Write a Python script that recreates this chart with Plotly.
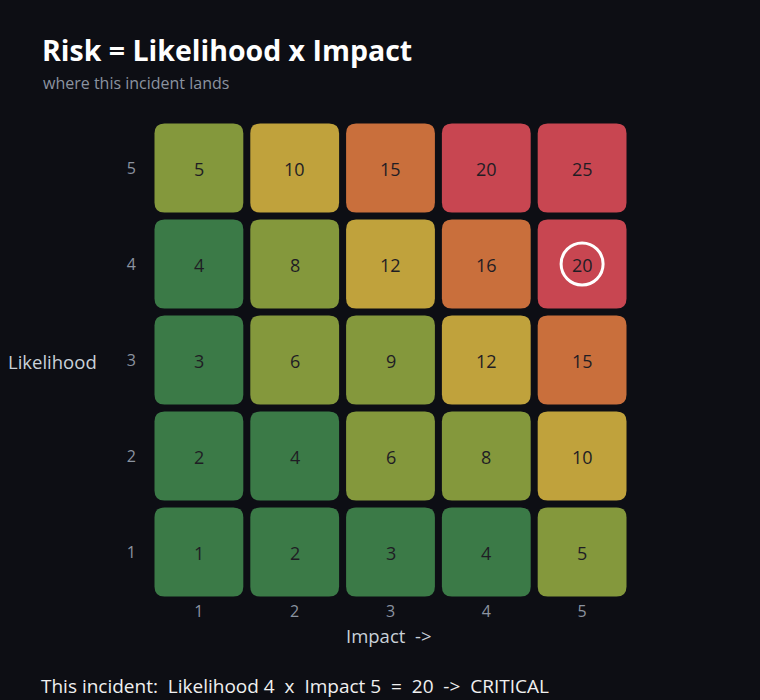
import plotly.graph_objects as go

impact = [1, 2, 3, 4, 5]
likelihood = [1, 2, 3, 4, 5]
tick_labels = ["1", "2", "3", "4", "5"]
# score thresholds -> colour bins
bin_max = [4, 9, 12, 16, 25]
bin_colors = ["#3b7a47", "#84983c", "#c0a23c", "#c96f3c", "#c84651"]
incident_likelihood = 4
incident_impact = 5
incident_level = "CRITICAL"

BG = "#0d0e14"
FONT = "Open Sans, Noto Sans, sans-serif"


def color_for(score):
    for m, c in zip(bin_max, bin_colors):
        if score <= m:
            return c
    return bin_colors[-1]


def rounded_rect(x0, y0, x1, y1, rx, ry):
    return (
        f"M {x0+rx},{y0} L {x1-rx},{y0} Q {x1},{y0} {x1},{y0+ry} "
        f"L {x1},{y1-ry} Q {x1},{y1} {x1-rx},{y1} "
        f"L {x0+rx},{y1} Q {x0},{y1} {x0},{y1-ry} "
        f"L {x0},{y0+ry} Q {x0},{y0} {x0+rx},{y0} Z"
    )


fig = go.Figure()
shapes = []
annotations = []
half = 89 / 96 / 2
r = 10 / 96
for L in likelihood:
    for I in impact:
        s = L * I
        shapes.append(dict(
            type="path", xref="x", yref="y",
            path=rounded_rect(I - half, L - half, I + half, L + half, r, r),
            fillcolor=color_for(s), line=dict(width=0), layer="below",
        ))
        annotations.append(dict(
            x=I, y=L, xref="x", yref="y", text=str(s), showarrow=False,
            xanchor="center", yanchor="middle", yshift=-1,
            font=dict(family=FONT, size=18, color="#1f1d24"),
        ))

fig.add_trace(go.Scatter(
    x=[incident_impact], y=[incident_likelihood], mode="markers",
    marker=dict(symbol="circle-open", size=42, color="white", line=dict(width=3, color="white")),
    hoverinfo="skip", showlegend=False,
))

PW = 480
annotations += [
    dict(text="<b>Risk = Likelihood x Impact</b>", xref="paper", yref="paper",
         x=(-150.5 + 39) / PW, y=1 + (120 - 50) / PW,
         xanchor="left", yanchor="middle", showarrow=False,
         font=dict(size=28.5, color="#ffffff", family=FONT)),
    dict(text="where this incident lands", xref="paper", yref="paper",
         x=(-150.5 + 40) / PW, y=1 + (120 - 83) / PW,
         xanchor="left", yanchor="middle", showarrow=False,
         font=dict(size=16, color="#8b93a0", family=FONT)),
    dict(text="Likelihood", xref="paper", yref="paper",
         x=(-150.5 + 5) / PW, y=0.5 + (360 - 361) / PW,
         xanchor="left", yanchor="middle", showarrow=False,
         font=dict(size=18.5, color="#c9d1d9", family=FONT)),
    dict(text="Impact  ->", xref="paper", yref="paper",
         x=0.5 + (389 - 390.5) / PW, y=-(635 - 600) / PW,
         xanchor="center", yanchor="middle", showarrow=False,
         font=dict(size=18.5, color="#c9d1d9", family=FONT)),
    dict(text=(f"This incident:  Likelihood {incident_likelihood}  x  Impact {incident_impact}  =  "
               f"{incident_likelihood * incident_impact}  ->  {incident_level}"),
         xref="paper", yref="paper",
         x=(-150.5 + 38) / PW, y=-(686 - 600) / PW,
         xanchor="left", yanchor="middle", showarrow=False,
         font=dict(size=19, color="#f0f0f0", family=FONT)),
]

fig.update_layout(
    width=760, height=700,
    paper_bgcolor=BG, plot_bgcolor=BG,
    margin=dict(l=150.5, r=129.5, t=120, b=100),
    shapes=shapes,
    font=dict(family=FONT),
    xaxis=dict(
        range=[0.5, 5.5], tickvals=impact, ticktext=tick_labels,
        showgrid=False, zeroline=False, showline=False,
        tickfont=dict(size=16, color="#8b93a0", family=FONT), ticks="", ticklabelstandoff=0,
    ),
    yaxis=dict(
        range=[0.5, 5.5], tickvals=likelihood, ticktext=tick_labels,
        showgrid=False, zeroline=False, showline=False,
        tickfont=dict(size=16, color="#8b93a0", family=FONT), ticks="", ticklabelstandoff=14,
    ),
    annotations=annotations,
)

fig.write_html("out.html")
